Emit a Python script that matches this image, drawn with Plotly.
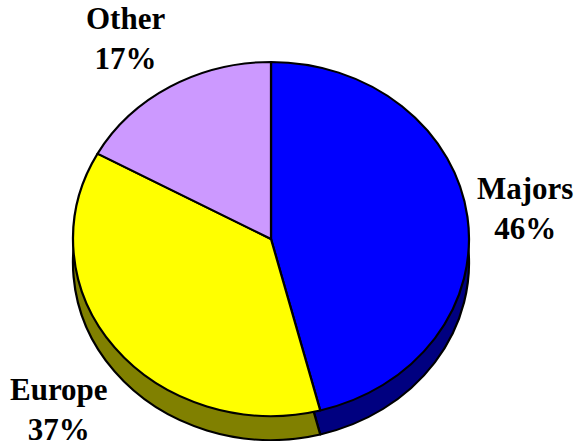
import plotly.graph_objects as go

# ---- data ----
labels = ["Majors", "Europe", "Other"]
values = [46, 37, 17]
top_colors = ["#0000FF", "#FFFF00", "#CC99FF"]
side_colors = ["#000080", "#808000", "#664C80"]

# ---- layout constants (pixels) ----
W, H = 577, 441
CX, CY = 271, 239      # centre of the pie's top face
RY, RX = 177, 198      # vertical / horizontal radius of the top face
DEPTH = 24             # thickness of the 3-D side
FONT = dict(family="Liberation Serif, Times New Roman, serif", size=31, color="black")


def pie_domain(cy):
    return dict(
        x=[0, 2 * CX / W],
        y=[(H - (cy + RY)) / H, (H - (cy - RY)) / H],
    )


common = dict(
    labels=labels,
    values=values,
    sort=False,
    direction="clockwise",
    rotation=0,
    textinfo="none",
    hoverinfo="skip",
    showlegend=False,
)

fig = go.Figure()
# side (extruded) part, shifted down
fig.add_trace(go.Pie(
    marker=dict(colors=side_colors, line=dict(color="black", width=2)),
    domain=pie_domain(CY + DEPTH),
    **common,
))
# top face
fig.add_trace(go.Pie(
    marker=dict(colors=top_colors, line=dict(color="black", width=2)),
    domain=pie_domain(CY),
    **common,
))

# label positions (centre x, centre y of the two-line label)
label_pos = {
    "Majors": (525, 208),
    "Europe": (59, 409),
    "Other": (125, 39),
}
total = sum(values)
annotations = []
for lab, v in zip(labels, values):
    x, y = label_pos[lab]
    annotations.append(dict(
        text=f"<b>{lab}<br>{round(100 * v / total)}%</b>",
        x=x / W, y=1 - y / H, xref="paper", yref="paper",
        xanchor="center", yanchor="middle", align="center",
        showarrow=False, font=FONT,
    ))

fig.update_layout(
    width=W, height=H,
    margin=dict(l=0, r=0, t=0, b=0),
    paper_bgcolor="white", plot_bgcolor="white",
    annotations=annotations,
)

sx = RX / RY
post = (
    "document.body.style.margin='0';document.body.style.overflow='hidden';"
    "var gd=document.getElementById('{plot_id}');"
    "function sq(){var L=gd.querySelector('.pielayer');"
    "if(L){L.setAttribute('transform','translate(" + str(CX) + ",0) scale(" + f"{sx:.4f}" + ",1) translate(-" + str(CX) + ",0)');}}"
    "sq();setTimeout(sq,0);setTimeout(sq,200);if(gd.on){gd.on('plotly_afterplot',sq);}"
)

fig.write_html("out.html", post_script=post, config={"displayModeBar": False})
